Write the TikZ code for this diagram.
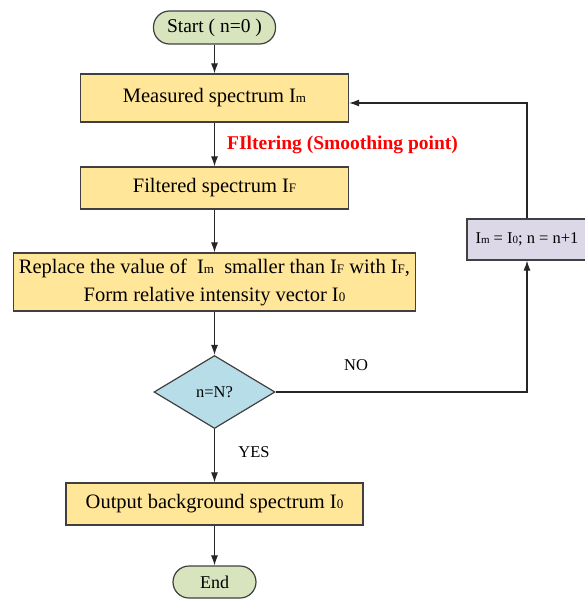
\documentclass[tikz,border=0pt]{standalone}
\usepackage{fontspec}
\setmainfont{Liberation Serif}
\usetikzlibrary{shapes.geometric,arrows.meta,positioning}
\definecolor{boxyellow}{HTML}{FFE699}
\definecolor{termgreen}{HTML}{D7E4BD}
\definecolor{diablue}{HTML}{B7DDE8}
\definecolor{boxlav}{HTML}{DCD8E8}
\definecolor{edgegray}{HTML}{404040}
\definecolor{labred}{HTML}{FF0000}
\newcommand{\lowsub}[1]{{\fontsize{13}{13}\selectfont #1}}
\newcommand{\lowsubs}[1]{{\fontsize{11}{11}\selectfont #1}}
\begin{document}
\begin{tikzpicture}[x=1pt,y=-1pt,
  bigtext/.style={font=\fontsize{20.5}{28}\selectfont},
  smalltext/.style={font=\fontsize{16.5}{20}\selectfont},
  procbox/.style={draw=edgegray, line width=1.2pt, fill=boxyellow, inner sep=0pt, bigtext, align=center},
  termbox/.style={draw=edgegray, line width=1.2pt, fill=termgreen, inner sep=0pt, rounded corners=16pt, font=\fontsize{19.5}{24}\selectfont},
  decbox/.style={diamond, draw=edgegray, line width=1.2pt, fill=diablue, inner sep=0pt, smalltext},
  updbox/.style={draw=edgegray, line width=1.2pt, fill=boxlav, inner sep=0pt, smalltext},
  arr/.style={draw=black!85, line width=1.1pt, -{Latex[length=10pt,width=7pt]}},
  lbl/.style={inner sep=0pt, smalltext}
]
\useasboundingbox (0,0) rectangle (584,599);

\node[termbox, minimum width=122pt, minimum height=33pt] (start) at (214.5,27.5) {Start ( n=0 )};
\node[procbox, minimum width=268pt, minimum height=48pt] (meas) at (214.5,98) {Measured spectrum I\lowsub{m}};
\node[procbox, minimum width=268pt, minimum height=42pt] (filt) at (214.5,188) {Filtered spectrum I\lowsub{F}};
\node[procbox, minimum width=402pt, minimum height=58pt] (repl) at (214.5,282) {Replace the value of\ \ I\lowsub{m}\ \ smaller than I\lowsub{F} with I\lowsub{F},\\Form relative intensity vector I\lowsub{0}};
\node[decbox, minimum width=121pt, minimum height=73pt] (dec) at (214.5,392) {n=N?};
\node[procbox, minimum width=297pt, minimum height=42pt] (out) at (214.5,504) {Output background spectrum I\lowsub{0}};
\node[termbox, minimum width=83pt, minimum height=32pt, font=\fontsize{18}{22}\selectfont] (end) at (214.5,582) {End};
\node[updbox, minimum width=120pt, minimum height=41pt] (upd) at (527,239.5) {I\lowsubs{m} = I\lowsubs{0}; n = n+1};

\node[inner sep=0pt, anchor=west, text=labred, font=\fontsize{19.5}{24}\selectfont\bfseries] (filtlbl) at (227,145) {FIltering (Smoothing point)};
\node[lbl] (nolbl) at (356,365) {NO};
\node[lbl] (yeslbl) at (254,452) {YES};

\draw[arr] (start) -- (meas);
\draw[arr] (meas) -- (filt);
\draw[arr] (filt) -- (repl);
\draw[arr] (repl) -- (dec);
\draw[arr] (dec) -- (out);
\draw[arr] (out) -- (end);
\draw[arr] (dec.east) -| (upd.south);
\draw[arr] (upd.north) |- ([yshift=-5pt]meas.east);
\end{tikzpicture}
\end{document}
